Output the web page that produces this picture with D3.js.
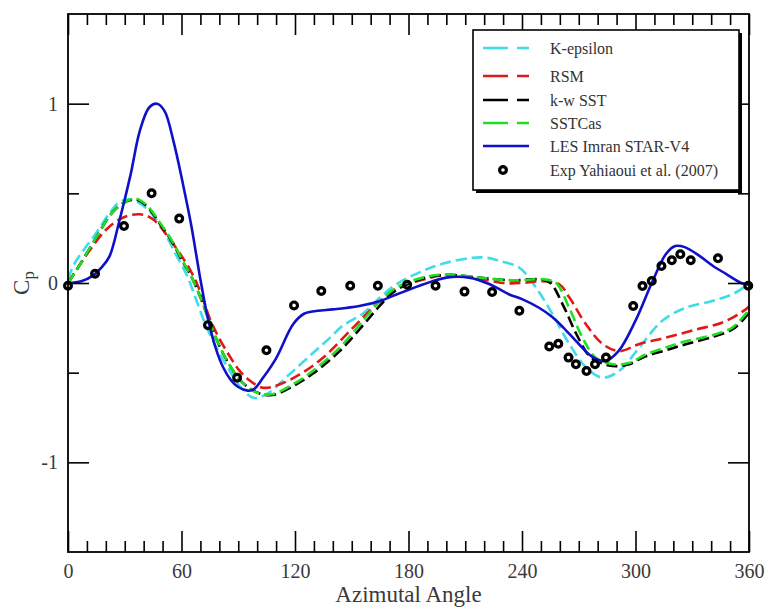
<!DOCTYPE html>
<html>
<head>
<meta charset="utf-8">
<script src="https://cdn.jsdelivr.net/npm/d3@7"></script>
<style>
  body { margin: 0; background: #fff; }
  svg text { font-family: "Liberation Serif", "Times New Roman", "DejaVu Serif", serif !important; }
</style>
</head>
<body>
<svg></svg>
<script>
// ---- data ----
const xTicks = [0, 60, 120, 180, 240, 300, 360];
const yTicks = [-1, 0, 1];

const kEpsAngle = [0, 3, 8, 15, 22, 27, 32, 37, 43, 50, 57, 63, 68, 73, 79, 85.5, 92, 98, 105, 117, 129.5, 138, 145, 156, 165, 173.5, 187.5, 200, 214, 222, 228, 238.6, 247.4, 256.2, 265, 273.8, 282.6, 291.4, 302, 314.2, 326.6, 340.6, 351.2, 358.3, 360];
const kEpsCp = [0.02, 0.1, 0.18, 0.28, 0.39, 0.45, 0.465, 0.45, 0.4, 0.3, 0.16, 0.04, -0.1, -0.24, -0.37, -0.49, -0.59, -0.64, -0.62, -0.51, -0.39, -0.31, -0.24, -0.17, -0.08, -0.007, 0.067, 0.113, 0.141, 0.14, 0.123, 0.085, -0.026, -0.175, -0.34, -0.47, -0.528, -0.49, -0.36, -0.21, -0.138, -0.1, -0.063, -0.017, 0];

const rsmAngle = [0, 4.6, 12, 20.4, 29, 38, 45, 53.8, 64.4, 70, 75, 80, 85, 90, 95, 103, 112, 122.5, 134.8, 150.6, 163, 174, 188, 201, 217, 230, 240, 250, 259.7, 265, 273.8, 282.6, 291.4, 302, 316, 331.8, 346, 358.3, 360];
const rsmCp = [0, 0.076, 0.19, 0.3, 0.364, 0.383, 0.355, 0.244, 0.076, -0.05, -0.2, -0.31, -0.4, -0.48, -0.535, -0.584, -0.565, -0.51, -0.417, -0.25, -0.12, -0.03, 0.02, 0.045, 0.025, 0, 0, 0.01, -0.007, -0.08, -0.23, -0.34, -0.38, -0.34, -0.305, -0.26, -0.22, -0.147, -0.13];

const sstAngle = [0, 5, 13, 24, 31, 36, 41.5, 48.6, 55.6, 60, 65, 70, 75, 80, 85, 90, 95, 101, 108, 119, 129.5, 143.6, 156, 165, 173.5, 187.5, 201, 217, 235, 250, 255, 262, 269, 276, 286, 296, 305, 316, 327, 341, 351, 356, 360];
const sstCp = [0, 0.08, 0.22, 0.4, 0.455, 0.465, 0.43, 0.33, 0.22, 0.13, 0.04, -0.08, -0.22, -0.35, -0.45, -0.53, -0.58, -0.615, -0.625, -0.575, -0.505, -0.38, -0.235, -0.125, -0.04, 0.025, 0.045, 0.03, 0.015, 0.02, 0, -0.13, -0.29, -0.41, -0.46, -0.455, -0.41, -0.375, -0.34, -0.3, -0.26, -0.215, -0.165];

const casAngle = [0, 5, 13, 24, 31, 36, 41.5, 48.6, 55.6, 60, 65, 70, 75, 80, 85, 90, 95, 101, 108, 119, 129.5, 143.6, 156, 165, 173.5, 187.5, 201, 217, 235, 252, 258, 265, 272, 279, 288, 297, 305, 316, 327, 341, 351, 356, 360];
const casCp = [0, 0.08, 0.22, 0.4, 0.457, 0.47, 0.435, 0.336, 0.225, 0.135, 0.04, -0.08, -0.22, -0.35, -0.45, -0.53, -0.58, -0.615, -0.62, -0.565, -0.49, -0.36, -0.21, -0.1, -0.026, 0.03, 0.048, 0.03, 0.015, 0.02, 0, -0.14, -0.305, -0.417, -0.453, -0.445, -0.4, -0.36, -0.324, -0.29, -0.25, -0.2, -0.15];

const lesAngle = [0, 7, 13, 18, 22, 27, 33, 38, 43, 47, 51, 56, 61, 65, 70, 74, 78, 82, 86, 90, 95, 98, 103, 110, 119, 125, 132, 140, 154, 165, 174, 188, 200, 212, 223, 233, 240, 249, 256, 262, 270, 277, 284, 291, 300, 309, 316, 321, 326, 334, 341, 348, 356, 360];
const lesCp = [0, 0.01, 0.04, 0.09, 0.15, 0.34, 0.6, 0.85, 0.98, 1.0, 0.96, 0.78, 0.54, 0.33, 0.02, -0.2, -0.36, -0.47, -0.54, -0.58, -0.6, -0.595, -0.53, -0.42, -0.23, -0.17, -0.155, -0.147, -0.128, -0.1, -0.063, -0.007, 0.03, 0.03, -0.007, -0.063, -0.09, -0.138, -0.19, -0.25, -0.34, -0.41, -0.435, -0.38, -0.21, 0.01, 0.16, 0.206, 0.2, 0.15, 0.095, 0.05, 0, -0.01];

const expAngle = [0, 14.3, 29.6, 44.2, 58.8, 74, 89.4, 104.9, 119.5, 133.9, 149.2, 163.8, 179.3, 194.3, 209.6, 224.2, 238.6, 254.4, 259.2, 264.6, 268.5, 274.1, 278.6, 284.4, 298.8, 303.7, 308.6, 313.7, 319.2, 323.7, 329.2, 343.6, 359.6];
const expCp = [-0.015, 0.052, 0.318, 0.5, 0.359, -0.235, -0.528, -0.375, -0.125, -0.045, -0.015, -0.015, -0.01, -0.015, -0.048, -0.05, -0.155, -0.354, -0.339, -0.416, -0.453, -0.491, -0.453, -0.416, -0.128, -0.017, 0.011, 0.095, 0.127, 0.16, 0.127, 0.138, -0.015];

const seriesNames = ['K-epsilon', 'RSM', 'k-w SST', 'SSTCas', 'LES Imran STAR-V4', 'Exp Yahiaoui et al. (2007)'];

// ---- layout ----
const margin = {t: 14, r: 20, b: 61, l: 68};
const size = {w: 769, h: 613};
const width = size.w - margin.l - margin.r;
const height = size.h - margin.t - margin.b;
const serif = '"Liberation Serif", "Times New Roman", serif';

const svg = d3.select('svg')
    .attr('width', size.w)
    .attr('height', size.h);

const g = svg.append('g').attr('transform', `translate(${margin.l},${margin.t})`);

const x = d3.scaleLinear().domain([0, 360]).range([0, width]);
const y = d3.scaleLinear().domain([-1.5, 1.5]).range([height, 0]);

const zip = (a, b) => a.map((v, i) => [v, b[i]]);

const lines = [
    {name: seriesNames[0], pts: zip(kEpsAngle, kEpsCp), color: '#3fdcea', dash: '11,5'},
    {name: seriesNames[1], pts: zip(rsmAngle, rsmCp), color: '#e01818', dash: '11,5'},
    {name: seriesNames[2], pts: zip(sstAngle, sstCp), color: '#000000', dash: '11,5'},
    {name: seriesNames[3], pts: zip(casAngle, casCp), color: '#1ee01e', dash: '11,5'},
    {name: seriesNames[4], pts: zip(lesAngle, lesCp), color: '#1010c8', dash: null}
];

const line = d3.line()
    .x(d => x(d[0]))
    .y(d => y(d[1]))
    .curve(d3.curveCatmullRom.alpha(0.5));

g.selectAll('path.series')
    .data(lines)
    .join('path')
    .classed('series', true)
    .attr('d', d => line(d.pts))
    .attr('fill', 'none')
    .attr('stroke', d => d.color)
    .attr('stroke-width', 2.6)
    .attr('stroke-dasharray', d => d.dash);

g.selectAll('circle.exp')
    .data(zip(expAngle, expCp))
    .join('circle')
    .classed('exp', true)
    .attr('cx', d => x(d[0]))
    .attr('cy', d => y(d[1]))
    .attr('r', 3.4)
    .attr('fill', 'none')
    .attr('stroke', '#000')
    .attr('stroke-width', 3.2);

// ---- axes: ticks point inward on all four sides ----
const minorX = d3.range(0, 361, 10).filter(v => v % 60 !== 0);
const minorY = [-0.5, 0.5];
const plain = d => String(d);

function styleAxis(sel) {
    sel.attr('font-family', serif);
    sel.select('.domain').remove();
    sel.selectAll('line').attr('stroke', '#000').attr('stroke-width', 1.6);
    sel.selectAll('text')
        .attr('fill', '#3a3a3a')
        .style('font-size', '20px');
}

g.append('g').attr('transform', `translate(0,${height})`)
    .call(d3.axisBottom(x).tickValues(xTicks).tickSize(-21).tickPadding(12).tickFormat(plain))
    .call(styleAxis);
g.append('g').attr('transform', `translate(0,${height})`)
    .call(d3.axisBottom(x).tickValues(minorX).tickSize(-11).tickFormat(''))
    .call(styleAxis);
g.append('g')
    .call(d3.axisTop(x).tickValues(xTicks).tickSize(-21).tickFormat(''))
    .call(styleAxis);
g.append('g')
    .call(d3.axisTop(x).tickValues(minorX).tickSize(-11).tickFormat(''))
    .call(styleAxis);

g.append('g')
    .call(d3.axisLeft(y).tickValues(yTicks).tickSize(-21).tickPadding(10).tickFormat(plain))
    .call(styleAxis);
g.append('g')
    .call(d3.axisLeft(y).tickValues(minorY).tickSize(-11).tickFormat(''))
    .call(styleAxis);
g.append('g').attr('transform', `translate(${width},0)`)
    .call(d3.axisRight(y).tickValues(yTicks).tickSize(-21).tickFormat(''))
    .call(styleAxis);
g.append('g').attr('transform', `translate(${width},0)`)
    .call(d3.axisRight(y).tickValues(minorY).tickSize(-11).tickFormat(''))
    .call(styleAxis);

// frame
g.append('rect')
    .attr('width', width)
    .attr('height', height)
    .attr('fill', 'none')
    .attr('stroke', '#000')
    .attr('stroke-width', 1.8);

// axis titles
svg.append('text')
    .attr('x', margin.l + width / 2)
    .attr('y', 602)
    .attr('text-anchor', 'middle')
    .attr('fill', '#3a3a3a')
    .style('font-family', serif)
    .style('font-size', '23px')
    .text('Azimutal Angle');

const yl = svg.append('text')
    .attr('transform', `translate(29,${margin.t + y(0)}) rotate(-90)`)
    .attr('text-anchor', 'middle')
    .attr('fill', '#3a3a3a')
    .style('font-family', serif)
    .style('font-size', '23px');
yl.append('tspan').text('C');
yl.append('tspan').attr('dy', 5).style('font-size', '17px').text('p');

// ---- legend ----
const lg = svg.append('g').attr('transform', 'translate(473,30)');
const lw = 266, lh = 160;
lg.append('rect').attr('x', 3).attr('y', 3).attr('width', lw).attr('height', lh).attr('fill', '#000');
lg.append('rect').attr('width', lw).attr('height', lh).attr('fill', '#fff').attr('stroke', '#000').attr('stroke-width', 1.6);

const rowY = [18, 46, 70, 93, 116, 140];
lines.forEach((s, i) => {
    lg.append('line')
        .attr('x1', 10).attr('x2', 56)
        .attr('y1', rowY[i]).attr('y2', rowY[i])
        .attr('stroke', s.color)
        .attr('stroke-width', 2.6)
        .attr('stroke-dasharray', s.dash ? '25,9' : null);
});
lg.append('circle')
    .attr('cx', 30).attr('cy', rowY[5])
    .attr('r', 3.4)
    .attr('fill', 'none').attr('stroke', '#000').attr('stroke-width', 3.2);

lg.selectAll('text.lab')
    .data(seriesNames)
    .join('text')
    .classed('lab', true)
    .attr('x', 77)
    .attr('y', (d, i) => rowY[i])
    .attr('dy', '0.35em')
    .attr('fill', '#333')
    .style('font-family', serif)
    .style('font-size', '16px')
    .text(d => d);
</script>
</body>
</html>
